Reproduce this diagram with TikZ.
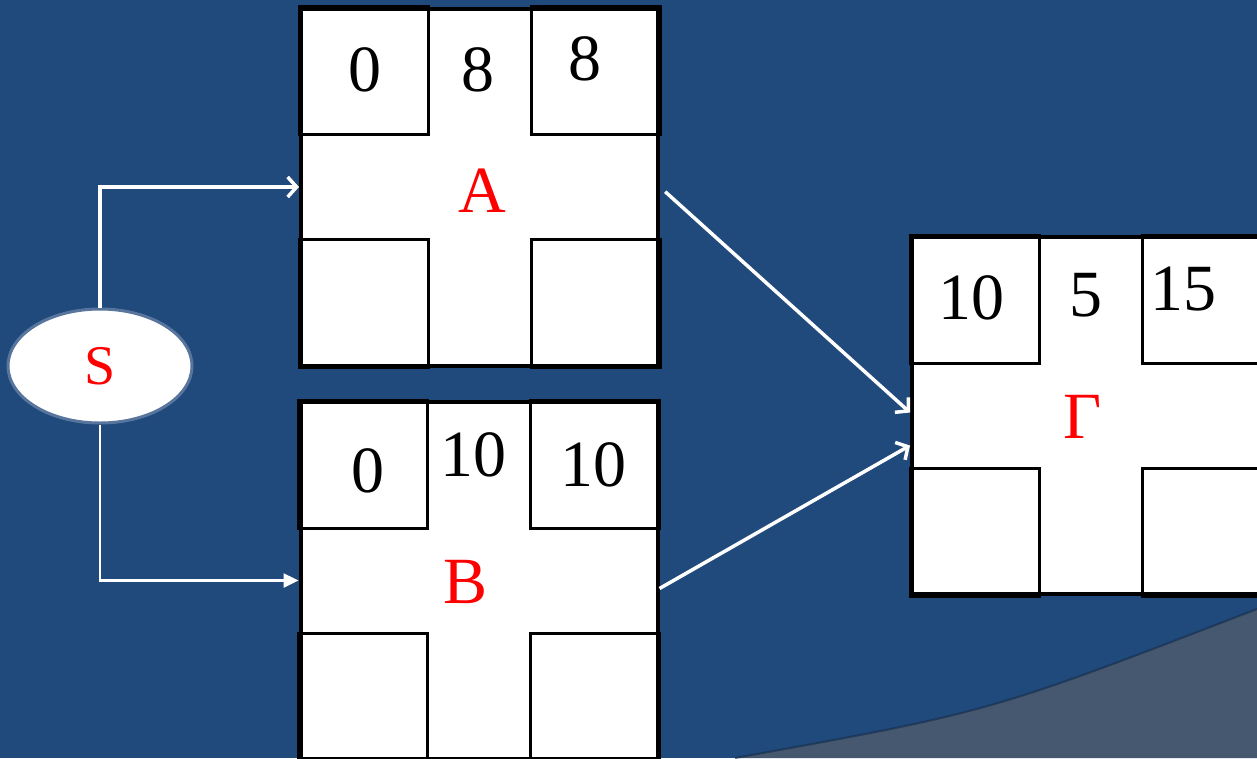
\documentclass[tikz,border=0pt]{standalone}
\usepackage{fontspec}
\setmainfont{Liberation Serif}
\usetikzlibrary{arrows.meta,shapes.geometric}
\definecolor{slideblue}{RGB}{32,73,124}
\definecolor{slidegrey}{RGB}{70,88,111}
\tikzset{
  num/.style={font=\fontsize{66}{66}\selectfont, anchor=base, inner sep=0pt},
  tasklabel/.style={num, text=red},
  taskbox/.style={draw=black, line width=4pt, fill=white, minimum width=357pt, minimum height=357pt, inner sep=0pt},
  corner/.style={draw=black, line width=3pt},
  link/.style={draw=white, line width=3.5pt, -{Straight Barb[length=9pt,width=20pt]}},
  linkfill/.style={draw=white, line width=2.5pt, -{Triangle[length=15pt,width=14pt]}}
}
\begin{document}
\begin{tikzpicture}[x=1pt,y=-1pt]
    % Canvas
    \useasboundingbox (0,0) rectangle (1257,758);
    \clip (0,0) rectangle (1257,758);
    \fill[slideblue] (0,0) rectangle (1257,758);
    \fill[slidegrey] (735,758) .. controls (990,712) .. (1257,609) -- (1257,758) -- cycle;
    \draw[slideblue!60!black, line width=2pt, opacity=0.6] (735,758) .. controls (990,712) .. (1257,609);

    % Define boxes
    \node[taskbox] (A) at (479.5,187) {};
    \node[taskbox] (B) at (479,580.5) {};
    \node[taskbox] (G) at (1090.5,415.5) {};
    \node[ellipse, fill=white, draw=white!25!slideblue, line width=3pt, minimum width=184pt, minimum height=114pt,
          text=red, font=\fontsize{56}{56}\selectfont] (S) at (100,366) {S};

    % Corner squares
    \foreach \b in {A,B,G} {
        \draw[corner] (\b.north west) rectangle +(129,128);
        \draw[corner] (\b.north east) rectangle +(-129,128);
        \draw[corner] (\b.south west) rectangle +(129,-128);
        \draw[corner] (\b.south east) rectangle +(-129,-128);
    }

    % Task names
    \node[tasklabel] (lA) at (482,212) {A};
    \node[tasklabel] (lB) at (466,603) {B};
    \node[tasklabel] (lG) at (1083,438) {Г};

    % Times
    \foreach \x/\y/\t [count=\i] in {365/91/0, 478/91/8, 585/80/8,
                                     368/492/0, 473/476/10, 593/486/10,
                                     971/319/10, 1086/316/5, 1183/310/15}
        \node[num] (n\i) at (\x,\y) {\t};

    % Arrows
    \draw[link] (S.north) |- (A.west);
    \draw[linkfill] (S.south) |- (B.west);
    \draw[link, shorten <=7pt] (A.east) -- ([yshift=3pt]G.west);
    \draw[link] ([yshift=-8pt]B.east) -- ([yshift=-30pt]G.west);
\end{tikzpicture}
\end{document}
